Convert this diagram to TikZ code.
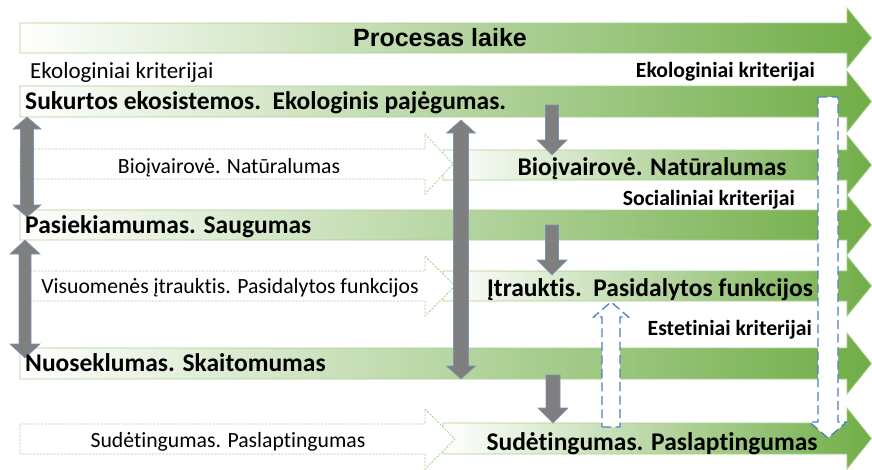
\documentclass[tikz,border=0pt]{standalone}
\usepackage{fontspec}
\setmainfont{Carlito}[Ligatures=NoCommon]
\newfontfamily\headfont{Liberation Sans}
\definecolor{grn}{HTML}{70AD47}
\definecolor{grnline}{HTML}{A9D18E}
\definecolor{dotgrn}{HTML}{A9D18E}
\definecolor{arrgray}{HTML}{7F7F7F}
\definecolor{arredge}{HTML}{7A95B5}
\definecolor{dashblue}{HTML}{4F81BD}
% right-pointing block arrow: left x, head base x, tip x, body top, body bottom, head overhang
\newcommand\rarrowpath[6]{(#1,#4) -- (#2,#4) -- (#2,#4-#6) -- (#3,{(#4+#5)/2}) -- (#2,#5+#6) -- (#2,#5) -- (#1,#5) -- cycle}
% vertical double arrow: centre x, top tip, bottom tip, shaft half width, head half width, head length
\newcommand\vdarrowpath[6]{(#1,#2) -- (#1+#5,#2+#6) -- (#1+#4,#2+#6) -- (#1+#4,#3-#6) -- (#1+#5,#3-#6) -- (#1,#3) -- (#1-#5,#3-#6) -- (#1-#4,#3-#6) -- (#1-#4,#2+#6) -- (#1-#5,#2+#6) -- cycle}
% downward arrow: centre x, top, tip, shaft half width, head half width, head length
\newcommand\downarrowpath[6]{(#1-#4,#2) -- (#1+#4,#2) -- (#1+#4,#3-#6) -- (#1+#5,#3-#6) -- (#1,#3) -- (#1-#5,#3-#6) -- (#1-#4,#3-#6) -- cycle}
% upward arrow: centre x, bottom, tip, shaft half width, head half width, head length
\newcommand\uparrowpath[6]{(#1-#4,#2) -- (#1+#4,#2) -- (#1+#4,#3+#6) -- (#1+#5,#3+#6) -- (#1,#3) -- (#1-#5,#3+#6) -- (#1-#4,#3+#6) -- cycle}
\begin{document}
\begin{tikzpicture}[x=1pt,y=-1pt,
  greenarrow/.style={draw=grnline, line width=0.8pt, left color=white, right color=grn},
  dotarrow/.style={draw=dotgrn, line width=0.8pt, dash pattern=on 2pt off 1.5pt, fill=white},
  grayarrow/.style={fill=arrgray, draw=arredge, line width=0.6pt},
  dasharrow/.style={draw=dashblue, line width=1.3pt, dash pattern=on 9pt off 4.5pt, fill=white},
  boldlbl/.style={font=\bfseries\fontsize{25.5}{28}\selectfont, inner sep=0pt},
  plainlbl/.style={font=\fontsize{21.7}{24}\selectfont, inner sep=0pt},
  critlbl/.style={font=\bfseries\fontsize{21.7}{24}\selectfont, inner sep=0pt}
]
\useasboundingbox (0,0) rectangle (872,469);
\fill[white] (0,0) rectangle (872,469);

% time-line arrows
\path[greenarrow] \rarrowpath{20}{847}{871.5}{23}{53}{15};
\path[greenarrow] \rarrowpath{20}{847}{871.5}{86}{117}{15};
\path[greenarrow] \rarrowpath{443}{847}{871.5}{150}{180}{15};
\path[greenarrow] \rarrowpath{20}{847}{871.5}{210}{240}{15};
\path[greenarrow] \rarrowpath{443}{847}{871.5}{271}{301}{15};
\path[greenarrow] \rarrowpath{20}{847}{871.5}{348}{379}{15};
\path[greenarrow] \rarrowpath{443}{847}{871.5}{423}{454}{15};

% dotted input arrows
\path[dotarrow] \rarrowpath{20}{425}{453}{149}{179}{15};
\path[dotarrow] \rarrowpath{20}{425}{455}{271}{301}{15};
\path[dotarrow] \rarrowpath{20}{425}{455}{424}{454}{15};

% grey arrows
\path[grayarrow] \vdarrowpath{27}{117}{217}{6.5}{14}{12};
\path[grayarrow] \vdarrowpath{25}{240}{358}{6}{15}{14};
\path[grayarrow] \vdarrowpath{461}{120}{379}{7.5}{14.5}{13};
\path[grayarrow] \downarrowpath{552}{105}{155}{6.5}{15}{15};
\path[grayarrow] \downarrowpath{552}{225}{275}{6.5}{15}{15};
\path[grayarrow] \downarrowpath{553}{375}{423}{7}{15}{15};

% dashed blue arrows
\path[dasharrow] \uparrowpath{611}{427}{302}{9}{17.5}{15};
\path[dasharrow] \downarrowpath{828}{97}{438}{10}{18.5}{16};

% labels
\node[font=\headfont\bfseries\fontsize{25}{28}\selectfont, inner sep=0pt] (title) at (440,38) {Procesas laike};
\node[plainlbl, font=\fontsize{23}{26}\selectfont, anchor=mid west] (ekoL) at (30,76) {Ekologiniai kriterijai};
\node[critlbl, anchor=mid east] (ekoR) at (815,75) {Ekologiniai kriterijai};
\node[boldlbl, anchor=mid west] (eco) at (25,107) {Sukurtos ekosistemos.\ \ Ekologinis pajėgumas.};
\node[plainlbl] (bioIn) at (229,168) {Bioįvairovė. Natūralumas};
\node[boldlbl] (bio) at (652,169) {Bioįvairovė. Natūralumas};
\node[critlbl, anchor=mid east] (soc) at (795,203) {Socialiniai kriterijai};
\node[boldlbl, anchor=mid west] (acc) at (25,231) {Pasiekiamumas. Saugumas};
\node[plainlbl] (incIn) at (230,288) {Visuomenės įtrauktis. Pasidalytos funkcijos};
\node[boldlbl] (inc) at (650,290) {Įtrauktis.\ \ Pasidalytos funkcijos};
\node[critlbl, anchor=mid east] (aes) at (812,333) {Estetiniai kriterijai};
\node[boldlbl, anchor=mid west] (coh) at (25,369) {Nuoseklumas. Skaitomumas};
\node[plainlbl] (cmpIn) at (228,442) {Sudėtingumas. Paslaptingumas};
\node[boldlbl] (cmp) at (652,444) {Sudėtingumas. Paslaptingumas};
\end{tikzpicture}
\end{document}
